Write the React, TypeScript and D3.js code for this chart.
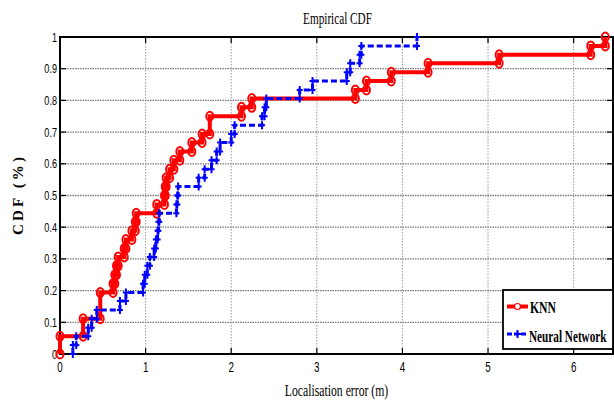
import React from 'react';
import * as d3 from 'd3';

// step positions (error, m) and cdf level reached at each step
const knnError = [0, 0.27, 0.47, 0.62, 0.64, 0.66, 0.68, 0.75, 0.77, 0.84, 0.88, 0.89, 1.13, 1.22, 1.23, 1.24, 1.28, 1.33, 1.40, 1.54, 1.66, 1.75, 2.12, 2.24, 3.45, 3.58, 3.87, 4.30, 5.13, 6.20, 6.37];
const knnCdf = [0.056, 0.111, 0.194, 0.222, 0.25, 0.278, 0.306, 0.333, 0.361, 0.389, 0.417, 0.444, 0.472, 0.5, 0.528, 0.556, 0.583, 0.611, 0.639, 0.667, 0.694, 0.75, 0.778, 0.806, 0.833, 0.861, 0.889, 0.917, 0.944, 0.972, 1.0];

const nnError = [0.15, 0.19, 0.33, 0.37, 0.43, 0.70, 0.77, 0.97, 0.99, 1.02, 1.05, 1.10, 1.12, 1.14, 1.15, 1.16, 1.36, 1.37, 1.38, 1.62, 1.69, 1.77, 1.83, 1.87, 2.00, 2.04, 2.36, 2.39, 2.41, 2.80, 2.95, 3.35, 3.39, 3.50, 3.52, 4.17];
const nnCdf = [0.028, 0.056, 0.083, 0.111, 0.139, 0.167, 0.194, 0.222, 0.25, 0.278, 0.306, 0.333, 0.361, 0.389, 0.417, 0.444, 0.472, 0.5, 0.528, 0.556, 0.583, 0.611, 0.639, 0.667, 0.694, 0.722, 0.75, 0.778, 0.806, 0.833, 0.861, 0.889, 0.917, 0.944, 0.972, 1.0];

const xTicks = [0, 1, 2, 3, 4, 5, 6];
const yTicks = [0, 0.1, 0.2, 0.3, 0.4, 0.5, 0.6, 0.7, 0.8, 0.9, 1];
const seriesNames = ['KNN', 'Neural Network'];

const width = 614;
const height = 401;
const left = 60, right = 613, top = 37, bottom = 354;

const x = d3.scaleLinear().domain([0, 6.46]).range([left, right]);
const y = d3.scaleLinear().domain([0, 1]).range([bottom, top]);

// vertices of the staircase
function stairs(xs: number[], ys: number[]) {
  const pts: [number, number][] = [];
  let prev = 0;
  xs.forEach((v, i) => {
    pts.push([v, prev]);
    pts.push([v, ys[i]]);
    prev = ys[i];
  });
  return pts;
}

const line = d3.line<[number, number]>().x(d => x(d[0])).y(d => y(d[1]));

const serif = '"Liberation Serif", "Times New Roman", serif';
const sans = '"Liberation Sans", Arial, sans-serif';

// the original figure's text is squeezed horizontally
const squeeze = (tx: number, ty: number, k = 0.67) => `translate(${tx},${ty}) scale(${k},1)`;

const App = () => {
  const knnPts = stairs(knnError, knnCdf);
  const nnPts = stairs(nnError, nnCdf);

  return (
    <svg width={width} height={height} style={{ position: 'absolute', left: 0, top: 0, background: '#fff' }}>
      {/* grid */}
      {yTicks.slice(1, -1).map(t => (
        <line key={'gy' + t} x1={left} x2={right} y1={y(t)} y2={y(t)} stroke="#777" strokeWidth={1.3} strokeDasharray="1.5,1" />
      ))}
      {xTicks.slice(1).map(t => (
        <line key={'gx' + t} x1={x(t)} x2={x(t)} y1={top} y2={bottom} stroke="#999" strokeWidth={1} strokeDasharray="1.5,1.5" />
      ))}

      {/* tick marks */}
      {xTicks.slice(1).map(t => (
        <g key={'tx' + t}>
          <line x1={x(t)} x2={x(t)} y1={bottom} y2={bottom - 6} stroke="#000" strokeWidth={1.2} />
          <line x1={x(t)} x2={x(t)} y1={top} y2={top + 6} stroke="#000" strokeWidth={1.2} />
        </g>
      ))}
      {yTicks.map(t => (
        <g key={'ty' + t}>
          <line x1={left} x2={left + 6} y1={y(t)} y2={y(t)} stroke="#000" strokeWidth={1.2} />
          <line x1={right} x2={right - 6} y1={y(t)} y2={y(t)} stroke="#000" strokeWidth={1.2} />
        </g>
      ))}

      {/* axes box */}
      <rect x={left} y={top} width={right - left} height={bottom - top} fill="none" stroke="#000" strokeWidth={2} />

      {/* tick labels */}
      {yTicks.map(t => (
        <text key={'ly' + t} transform={squeeze(left - 3, y(t) + 4.5, 0.7)} textAnchor="end"
          fontFamily={sans} fontSize={13} fill="#000">{d3.format('~g')(t)}</text>
      ))}
      {xTicks.map(t => (
        <text key={'lx' + t} transform={squeeze(x(t), bottom + 18, 0.7)} textAnchor="middle"
          fontFamily={sans} fontSize={14} fill="#000">{t}</text>
      ))}

      {/* titles */}
      <text transform={squeeze(337.5, 24, 0.66)} textAnchor="middle" fontFamily={serif} fontSize={17}>Empirical CDF</text>
      <text transform={squeeze(336.5, 396, 0.69)} textAnchor="middle" fontFamily={serif} fontSize={17}>Localisation error (m)</text>
      <text transform="translate(23,235) rotate(-90)" textLength={78} lengthAdjust="spacing" fontFamily={serif}
        fontSize={15} fontWeight="bold">CDF (%)</text>

      {/* KNN */}
      <path d={line(knnPts) || ''} fill="none" stroke="#ff0000" strokeWidth={4} />
      {knnPts.map((p, i) => (
        <ellipse key={'mk' + i} cx={x(p[0])} cy={y(p[1])} rx={3.5} ry={4.5} fill="none" stroke="#ff0000" strokeWidth={2} />
      ))}

      {/* Neural network */}
      <path d={line(nnPts) || ''} fill="none" stroke="#0000ff" strokeWidth={3} strokeDasharray="6,3" />
      {nnPts.map((p, i) => (
        <path key={'mn' + i} d={`M${x(p[0]) - 3},${y(p[1])}h6M${x(p[0])},${y(p[1]) - 4}v8`} stroke="#0000ff" strokeWidth={2} />
      ))}

      {/* legend */}
      <rect x={503} y={290} width={110} height={59} fill="#fff" stroke="#000" strokeWidth={1.8} />
      <line x1={507} x2={528} y1={306.5} y2={306.5} stroke="#ff0000" strokeWidth={4} />
      <circle cx={517.5} cy={306.5} r={3} fill="#fff" stroke="#ff0000" strokeWidth={1.2} />
      <text transform={squeeze(530, 313, 0.69)} fontFamily={serif} fontSize={17} fontWeight="bold">{seriesNames[0]}</text>
      <line x1={507} x2={528} y1={334} y2={334} stroke="#0000ff" strokeWidth={3} strokeDasharray="5,2" />
      <path d="M514,334h7M517.5,330v8" stroke="#0000ff" strokeWidth={2} />
      <text transform={squeeze(529, 342, 0.66)} fontFamily={serif} fontSize={17} fontWeight="bold">{seriesNames[1]}</text>
    </svg>
  );
};

export default App;
